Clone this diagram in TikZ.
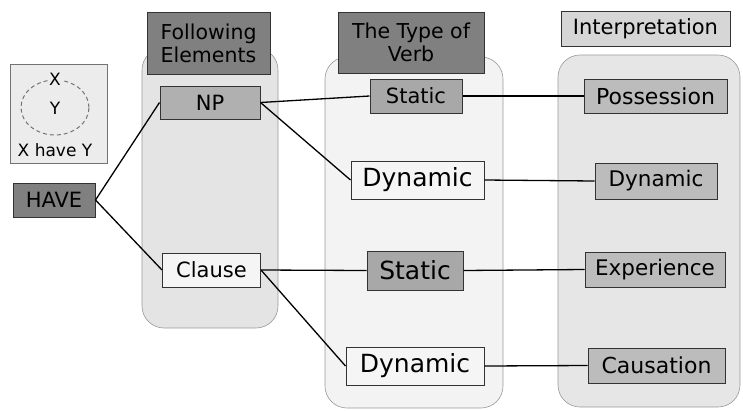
\documentclass[tikz,border=0pt]{standalone}
\usepackage{fontspec}
\setmainfont{DejaVu Sans}
\usetikzlibrary{shapes.geometric}
\definecolor{hdark}{HTML}{808080}
\definecolor{hlight}{HTML}{D6D6D6}
\definecolor{legfill}{HTML}{ECECEC}
\definecolor{colA}{HTML}{E4E4E4}
\definecolor{colB}{HTML}{F3F3F3}
\definecolor{colC}{HTML}{E6E6E6}
\definecolor{npfill}{HTML}{B0B0B0}
\definecolor{stfill}{HTML}{A8A8A8}
\definecolor{infill}{HTML}{BCBCBC}
\definecolor{wfill}{HTML}{F5F5F5}
\definecolor{edge}{HTML}{333333}
\tikzset{
  box/.style={draw=edge, line width=1pt, inner sep=0pt, align=center, text=black},
  colbg/.style={draw=gray!80, line width=0.6pt, rounded corners=22pt, inner sep=0pt},
  link/.style={draw=black, line width=1.3pt},
  fs/.style={font=\fontsize{#1}{#1}\selectfont}
}
\begin{document}
\begin{tikzpicture}[x=1pt,y=-1pt]
\useasboundingbox (0,0) rectangle (743,410);
% column backgrounds
\node[colbg, fill=colA, minimum width=136, minimum height=280] (colF) at (210,188) {};
\node[colbg, fill=colB, minimum width=178, minimum height=351] (colV) at (414,232.5) {};
\node[colbg, fill=colC, minimum width=182, minimum height=352] (colI) at (649,231) {};
% headers
\node[box, fill=hdark, minimum width=123, minimum height=62, font=\fontsize{20.5}{23}\selectfont] (hF) at (208.5,43) {Following\\Elements};
\node[box, fill=hdark, minimum width=146, minimum height=61, font=\fontsize{20.5}{23}\selectfont] (hV) at (411,42.5) {The Type of\\Verb};
\node[box, fill=hlight, minimum width=169, minimum height=35, fs=21] (hI) at (645.5,28.5) {Interpretation};
% legend
\node[draw=gray!90!black, line width=1pt, fill=legfill, minimum width=97, minimum height=99, inner sep=0pt] (leg) at (58.5,113.5) {};
\node[draw=gray!90!black, dash pattern=on 4pt off 3pt, line width=1pt, ellipse, minimum width=68, minimum height=55, inner sep=0pt] (ell) at (55,107.5) {};
\node[fill=legfill, inner sep=1.5pt, fs=17] (lx) at (55,79) {X};
\node[fs=17] (ly) at (55,108) {Y};
\node[fs=17] (lxy) at (55,150) {X have Y};
% nodes
\node[box, fill=hdark, minimum width=82, minimum height=34, fs=21] (have) at (54,200) {HAVE};
\node[box, fill=npfill, minimum width=100, minimum height=33, fs=21] (np) at (210,102.5) {NP};
\node[box, fill=wfill, minimum width=98, minimum height=34, fs=21] (clause) at (211.5,270) {Clause};
\node[box, fill=stfill, minimum width=92, minimum height=34, fs=21] (st1) at (416,96) {Static};
\node[box, fill=wfill, minimum width=133, minimum height=38, fs=25] (dy1) at (417.5,180) {Dynamic};
\node[box, fill=stfill, minimum width=96, minimum height=39, fs=25] (st2) at (415,270.5) {Static};
\node[box, fill=wfill, minimum width=138, minimum height=38, fs=25] (dy2) at (415,366) {Dynamic};
\node[box, fill=infill, minimum width=143, minimum height=34, fs=22] (poss) at (655.5,96) {Possession};
\node[box, fill=infill, minimum width=122, minimum height=36, fs=21.5] (dyI) at (656,181) {Dynamic};
\node[box, fill=infill, minimum width=140, minimum height=35, fs=21.5] (exp) at (655,269.5) {Experience};
\node[box, fill=infill, minimum width=137, minimum height=35, fs=22] (caus) at (656.5,365.5) {Causation};
% connectors
\draw[link] (have.east) -- (np.west);
\draw[link] (have.east) -- (clause.west);
\draw[link] (np.east) -- (st1.west);
\draw[link] (np.east) -- (dy1.west);
\draw[link] (clause.east) -- (st2.west);
\draw[link] (clause.east) -- (dy2.west);
\draw[link] (st1.east) -- (poss.west);
\draw[link] (dy1.east) -- (dyI.west);
\draw[link] (st2.east) -- (exp.west);
\draw[link] (dy2.east) -- (caus.west);
\end{tikzpicture}
\end{document}
